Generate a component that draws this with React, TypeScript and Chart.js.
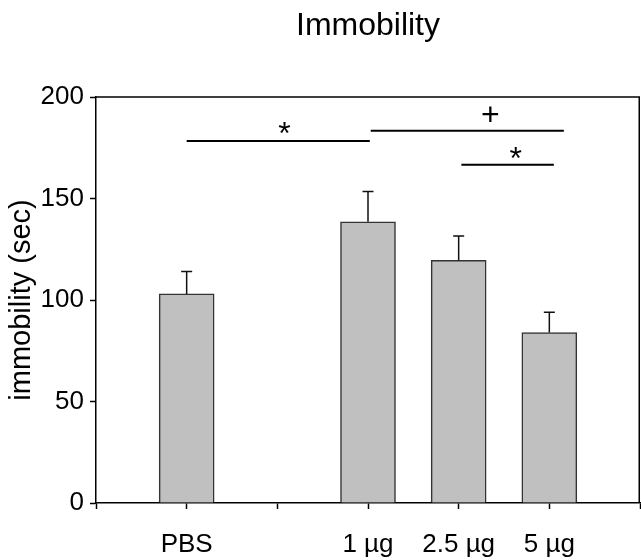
import React, { useEffect, useRef } from 'react';
import { Chart, registerables } from 'chart.js';

Chart.register(...registerables);

const titleText = 'Immobility';
const yTitle = 'immobility (sec)';
const categories = ['', 'PBS', '', '1 µg', '2.5 µg', '5 µg', ''];
const means: (number | null)[] = [null, 103, null, 138.5, 119.5, 84, null];
const errors: (number | null)[] = [null, 11, null, 15, 12, 10, null];

// significance annotations (x in category index units, y in data units)
const sigFrom = [1, 3.03, 4.03];
const sigTo = [3.02, 5.16, 5.05];
const sigLevel = [178.3, 183.4, 166.6];
const sigMarks = ['*', '+', '*'];
const markX = [2.08, 4.35, 4.63];
const markLevel = [184.8, 191.6, 172.6];

const FONT = '"Liberation Sans", Arial, sans-serif';

const decorPlugin = {
  id: 'decor',
  afterDatasetsDraw(chart: any) {
    const { ctx, scales, chartArea } = chart;
    const x = scales.x;
    const y = scales.y;
    ctx.save();
    // error bars
    ctx.strokeStyle = '#111';
    ctx.lineWidth = 1.5;
    means.forEach((m, i) => {
      if (m == null) return;
      const e = errors[i] as number;
      const px = x.getPixelForValue(i);
      const yb = y.getPixelForValue(m);
      const yt = y.getPixelForValue(m + e);
      ctx.beginPath();
      ctx.moveTo(px, yb);
      ctx.lineTo(px, yt);
      ctx.moveTo(px - 5.5, yt);
      ctx.lineTo(px + 5.5, yt);
      ctx.stroke();
    });
    // frame (top and right)
    ctx.strokeStyle = '#000';
    ctx.lineWidth = 1.5;
    ctx.beginPath();
    ctx.moveTo(chartArea.left, chartArea.top);
    ctx.lineTo(chartArea.right - 0.75, chartArea.top);
    ctx.lineTo(chartArea.right - 0.75, chartArea.bottom);
    ctx.stroke();
    // significance lines
    ctx.lineWidth = 2;
    sigFrom.forEach((a, i) => {
      const yy = y.getPixelForValue(sigLevel[i]);
      ctx.beginPath();
      ctx.moveTo(x.getPixelForValue(a), yy);
      ctx.lineTo(x.getPixelForValue(sigTo[i]), yy);
      ctx.stroke();
    });
    // marks
    ctx.fillStyle = '#000';
    ctx.font = `32px ${FONT}`;
    ctx.textAlign = 'center';
    ctx.textBaseline = 'alphabetic';
    sigMarks.forEach((s, i) => {
      const m = ctx.measureText(s);
      const cy = y.getPixelForValue(markLevel[i]);
      const base = cy + (m.actualBoundingBoxAscent - m.actualBoundingBoxDescent) / 2;
      ctx.fillText(s, x.getPixelForValue(markX[i]), base);
    });
    // title
    ctx.font = `32px ${FONT}`;
    ctx.fillText(titleText, (chartArea.left + chartArea.right) / 2, 35);
    ctx.restore();
  },
};

export default function App() {
  const ref = useRef<HTMLCanvasElement>(null);
  useEffect(() => {
    if (!ref.current) return;
    const chart = new Chart(ref.current, {
      type: 'bar',
      data: {
        labels: categories,
        datasets: [
          {
            data: means as any,
            backgroundColor: '#c0c0c0',
            borderColor: '#333',
            borderWidth: 1.5,
            barThickness: 55,
          },
        ],
      },
      options: {
        responsive: false,
        animation: false,
        devicePixelRatio: 1,
        layout: { padding: { top: 97, right: 1, left: 0, bottom: 0 } },
        plugins: {
          legend: { display: false },
          tooltip: { enabled: false },
          title: { display: false },
        },
        scales: {
          x: {
            type: 'category',
            offset: false,
            grid: {
              offset: false,
              drawOnChartArea: false,
              drawTicks: true,
              tickLength: 6,
              tickColor: '#000',
              tickWidth: 1.5,
            },
            border: { display: true, color: '#000', width: 1.5 },
            ticks: {
              autoSkip: false,
              maxRotation: 0,
              minRotation: 0,
              padding: 1,
              color: '#000',
              font: { family: FONT, size: 26, lineHeight: 2.69 },
            },
            afterFit: (s: any) => {
              s.height = 57;
            },
          },
          y: {
            min: 0,
            max: 200,
            grid: {
              drawOnChartArea: false,
              drawTicks: true,
              tickLength: 6,
              tickColor: '#000',
              tickWidth: 1.5,
            },
            border: { display: true, color: '#000', width: 1.5 },
            ticks: {
              stepSize: 50,
              padding: 6,
              color: '#000',
              font: { family: FONT, size: 26 },
            },
            title: {
              display: true,
              text: yTitle,
              color: '#000',
              font: { family: FONT, size: 29 },
              padding: { top: 5, bottom: 0 },
            },
            afterFit: (s: any) => {
              s.width = 96;
            },
          },
        },
      },
      plugins: [decorPlugin],
    });
    return () => chart.destroy();
  }, []);
  return (
    <canvas
      ref={ref}
      width={641}
      height={560}
      style={{ position: 'fixed', left: 0, top: 0 }}
    />
  );
}
